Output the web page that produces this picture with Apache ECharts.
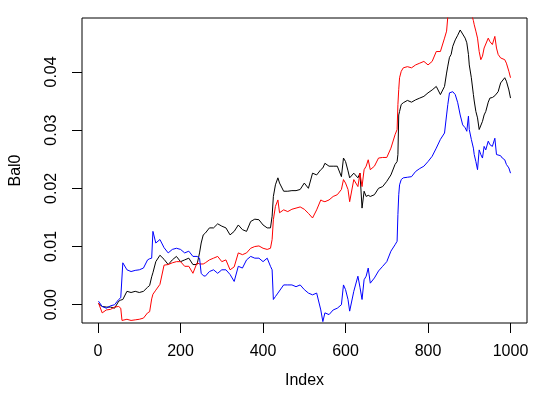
<!DOCTYPE html>
<html>
<head>
<meta charset="utf-8">
<script src="https://cdn.jsdelivr.net/npm/echarts@6/dist/echarts.min.js"></script>
<style>
  html, body { margin: 0; padding: 0; background: #fff; }
  #chart { width: 540px; height: 397px; }
</style>
</head>
<body>
<div id="chart"></div>
<script>
// index positions (x)
const idx = [
  1, 10, 20, 30, 40, 50, 55, 58, 60, 70,
  80, 90, 100, 110, 120, 125, 130, 133, 140, 150,
  160, 170, 180, 190, 200, 210, 220, 230, 240, 246,
  250, 255, 260, 270, 280, 290, 300, 310, 320, 330,
  340, 350, 360, 370, 380, 390, 400, 410, 418, 422,
  425, 430, 436, 440, 450, 460, 470, 480, 490, 500,
  510, 520, 530, 540, 545, 550, 560, 570, 580, 590,
  595, 600, 606, 610, 620, 630, 635, 640, 645, 650,
  655, 660, 670, 680, 690, 700, 710, 720, 725, 727,
  729, 731, 735, 740, 750, 760, 770, 780, 790, 800,
  810, 820, 830, 840, 845, 848, 852, 856, 860, 866,
  872, 878, 884, 890, 894, 898, 900, 905, 910, 912,
  916, 920, 924, 928, 932, 936, 940, 946, 950, 956,
  962, 966, 970, 976, 980, 986, 990, 996, 1000
]

// Bal0 (black)
const bal0 = [
  0.0002, -0.0003, -0.0004, -0.0004, -0.0006, 0.0006, 0.0008, 0.0009, 0.0009, 0.0023,
  0.0021, 0.0023, 0.0021, 0.0023, 0.0030, 0.0033, 0.0048, 0.0055, 0.0074, 0.0085,
  0.0078, 0.0069, 0.0077, 0.0083, 0.0074, 0.0077, 0.0080, 0.0069, 0.0069, 0.0089,
  0.0106, 0.0120, 0.0123, 0.0132, 0.0132, 0.0139, 0.0135, 0.0132, 0.0120, 0.0126,
  0.0137, 0.0129, 0.0126, 0.0143, 0.0147, 0.0146, 0.0137, 0.0132, 0.0132, 0.0152,
  0.0186, 0.0206, 0.0218, 0.0209, 0.0195, 0.0195, 0.0196, 0.0196, 0.0198, 0.0209,
  0.0200, 0.0226, 0.0223, 0.0232, 0.0235, 0.0243, 0.0238, 0.0238, 0.0238, 0.0220,
  0.0252, 0.0246, 0.0230, 0.0218, 0.0226, 0.0218, 0.0226, 0.0166, 0.0195, 0.0186,
  0.0188, 0.0186, 0.0189, 0.0200, 0.0203, 0.0212, 0.0223, 0.0241, 0.0246, 0.0258,
  0.0326, 0.0332, 0.0344, 0.0347, 0.0351, 0.0348, 0.0352, 0.0355, 0.0358, 0.0364,
  0.0369, 0.0375, 0.0361, 0.0375, 0.0398, 0.0410, 0.0425, 0.0430, 0.0444, 0.0455,
  0.0463, 0.0472, 0.0465, 0.0458, 0.0450, 0.0430, 0.0412, 0.0390, 0.0361, 0.0350,
  0.0332, 0.0321, 0.0301, 0.0304, 0.0315, 0.0326, 0.0332, 0.0348, 0.0355, 0.0356,
  0.0359, 0.0362, 0.0366, 0.0381, 0.0384, 0.0390, 0.0384, 0.0369, 0.0355
]

// red line
const redVals = [
  0.0003, -0.0014, -0.0009, -0.0008, -0.0004, -0.0003, -0.0006, -0.0027, -0.0027, -0.0025,
  -0.0027, -0.0026, -0.0025, -0.0023, -0.0014, -0.0012, 0.0010, 0.0018, 0.0025, 0.0035,
  0.0068, 0.0069, 0.0072, 0.0074, 0.0074, 0.0066, 0.0066, 0.0054, 0.0072, 0.0070,
  0.0069, 0.0070, 0.0072, 0.0077, 0.0080, 0.0083, 0.0074, 0.0077, 0.0060, 0.0065,
  0.0089, 0.0086, 0.0089, 0.0097, 0.0100, 0.0101, 0.0097, 0.0095, 0.0097, 0.0112,
  0.0146, 0.0169, 0.0180, 0.0158, 0.0163, 0.0160, 0.0164, 0.0166, 0.0168, 0.0164,
  0.0157, 0.0149, 0.0163, 0.0180, 0.0178, 0.0177, 0.0180, 0.0186, 0.0189, 0.0198,
  0.0215, 0.0209, 0.0198, 0.0177, 0.0215, 0.0203, 0.0226, 0.0203, 0.0232, 0.0238,
  0.0249, 0.0232, 0.0238, 0.0252, 0.0253, 0.0253, 0.0269, 0.0292, 0.0301, 0.0344,
  0.0370, 0.0390, 0.0401, 0.0407, 0.0409, 0.0407, 0.0412, 0.0415, 0.0418, 0.0412,
  0.0418, 0.0435, 0.0435, 0.0458, 0.0470, 0.0495, 0.0505, 0.0515, 0.0525, 0.0535,
  0.0540, 0.0540, 0.0530, 0.0525, 0.0520, 0.0510, 0.0505, 0.0500, 0.0488, 0.0481,
  0.0470, 0.0458, 0.0435, 0.0421, 0.0427, 0.0441, 0.0444, 0.0458, 0.0452, 0.0447,
  0.0461, 0.0441, 0.0430, 0.0424, 0.0427, 0.0421, 0.0415, 0.0401, 0.0390
]

// blue line
const blueVals = [
  0.0006, -0.0003, -0.0006, -0.0002, 0.0000, 0.0009, 0.0012, 0.0015, 0.0072, 0.0060,
  0.0057, 0.0059, 0.0060, 0.0063, 0.0077, 0.0079, 0.0080, 0.0126, 0.0106, 0.0112,
  0.0098, 0.0089, 0.0095, 0.0097, 0.0095, 0.0089, 0.0092, 0.0083, 0.0083, 0.0080,
  0.0054, 0.0050, 0.0049, 0.0057, 0.0060, 0.0054, 0.0060, 0.0060, 0.0052, 0.0040,
  0.0066, 0.0063, 0.0077, 0.0083, 0.0080, 0.0080, 0.0074, 0.0080, 0.0066, 0.0060,
  0.0009, 0.0014, 0.0020, 0.0023, 0.0034, 0.0034, 0.0034, 0.0031, 0.0034, 0.0026,
  0.0020, 0.0017, 0.0020, -0.0009, -0.0029, -0.0014, -0.0017, -0.0009, -0.0006, 0.0000,
  0.0034, 0.0026, 0.0009, -0.0011, 0.0023, 0.0049, 0.0030, 0.0009, 0.0043, 0.0049,
  0.0063, 0.0037, 0.0046, 0.0058, 0.0066, 0.0074, 0.0092, 0.0103, 0.0109, 0.0155,
  0.0189, 0.0206, 0.0215, 0.0218, 0.0219, 0.0220, 0.0229, 0.0234, 0.0238, 0.0246,
  0.0255, 0.0269, 0.0284, 0.0295, 0.0326, 0.0344, 0.0364, 0.0364, 0.0366, 0.0361,
  0.0347, 0.0326, 0.0309, 0.0304, 0.0298, 0.0324, 0.0301, 0.0284, 0.0269, 0.0258,
  0.0246, 0.0232, 0.0266, 0.0258, 0.0252, 0.0272, 0.0266, 0.0281, 0.0275, 0.0272,
  0.0286, 0.0258, 0.0261, 0.0256, 0.0252, 0.0249, 0.0241, 0.0235, 0.0226
]

const xTicks = [0, 200, 400, 600, 800, 1000]
const yTicks = [0, 0.01, 0.02, 0.03, 0.04]

function pairs(vals) {
  return vals.map((v, i) => [idx[i], v])
}

let myChart = echarts.init(document.getElementById('chart'), null, { renderer: 'canvas' })
let font = 'Liberation Sans, Arial, sans-serif'

let option = {
  animation: false,
  backgroundColor: '#fff',
  grid: {
    left: 78,
    right: 13,
    top: 18,
    bottom: 74,
    show: true,
    borderColor: '#000',
    borderWidth: 1,
    backgroundColor: 'transparent'
  },
  xAxis: {
    type: 'value',
    min: -38.96,
    max: 1039.96,
    axisLine: { show: false, onZero: false },
    splitLine: { show: false },
    axisTick: {
      show: true,
      inside: false,
      length: 10,
      customValues: xTicks,
      lineStyle: { color: '#000', width: 1 }
    },
    axisLabel: {
      customValues: xTicks,
      margin: 21,
      color: '#000',
      fontSize: 16,
      fontFamily: font,
      formatter: v => String(v)
    },
    name: 'Index',
    nameLocation: 'middle',
    nameGap: 50,
    nameTextStyle: { color: '#000', fontSize: 16, fontFamily: font }
  },
  yAxis: {
    type: 'value',
    min: -0.00314,
    max: 0.04926,
    axisLine: { show: false, onZero: false },
    splitLine: { show: false },
    axisTick: {
      show: true,
      inside: false,
      length: 10,
      customValues: yTicks,
      lineStyle: { color: '#000', width: 1 }
    },
    axisLabel: {
      customValues: yTicks,
      rotate: 90,
      margin: 22,
      color: '#000',
      fontSize: 16,
      fontFamily: font,
      formatter: v => v.toFixed(2)
    },
    name: 'Bal0',
    nameLocation: 'middle',
    nameGap: 58,
    nameTextStyle: { color: '#000', fontSize: 16, fontFamily: font }
  },
  series: [
    {
      name: 'Bal0',
      type: 'line',
      symbol: 'none',
      clip: true,
      lineStyle: { color: '#000', width: 1 },
      data: pairs(bal0)
    },
    {
      name: 'red',
      type: 'line',
      symbol: 'none',
      clip: true,
      lineStyle: { color: '#ff0000', width: 1 },
      data: pairs(redVals)
    },
    {
      name: 'blue',
      type: 'line',
      symbol: 'none',
      clip: true,
      lineStyle: { color: '#0000ff', width: 1 },
      data: pairs(blueVals)
    }
  ]
}
myChart.setOption(option)
</script>
</body>
</html>
